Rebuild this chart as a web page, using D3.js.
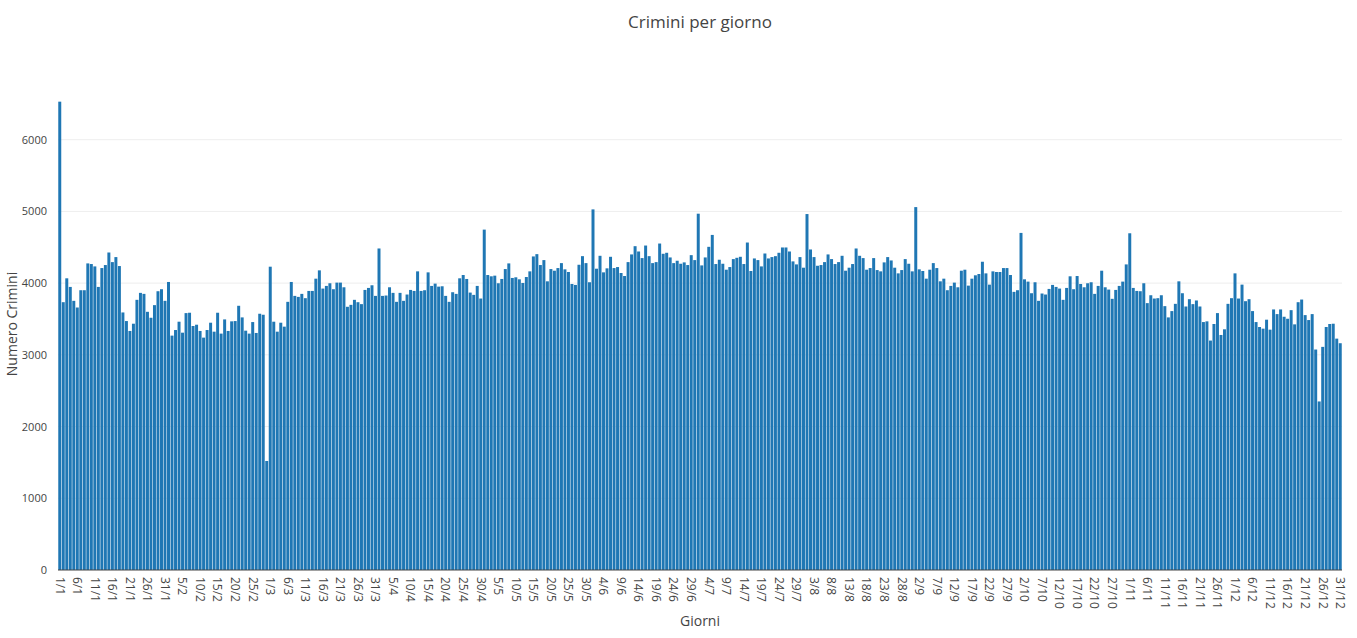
<!DOCTYPE html>
<html>
<head>
<meta charset="utf-8">
<script src="https://cdn.jsdelivr.net/npm/d3@7/dist/d3.min.js"></script>
<style>
  body { margin: 0; background: #fff; }
  text { font-family: "Open Sans", sans-serif; fill: #444; }
</style>
</head>
<body>
<svg id="chart" width="1357" height="638"></svg>
<script>
// days per month (leap year) -> category labels "d/m"
var monthDays = [31, 29, 31, 30, 31, 30, 31, 31, 30, 31, 30, 31];

// crimes per day
var crimini = [
  6530, 3734, 4067, 3947, 3753, 3660, 3901, 3901, 4275, 4266,
  4233, 3947, 4210, 4252, 4427, 4293, 4363, 4238, 3591, 3471,
  3333, 3434, 3767, 3864, 3850, 3600, 3517, 3693, 3887, 3915,
  3753, 4016, 3268, 3346, 3462, 3309, 3582, 3587, 3402, 3420,
  3333, 3240, 3346, 3448, 3323, 3587, 3296, 3494, 3333, 3467,
  3471, 3684, 3522, 3337, 3296, 3457, 3305, 3573, 3559, 1520,
  4229, 3462, 3323, 3448, 3393, 3739, 4016, 3822, 3808, 3850,
  3790, 3891, 3891, 4062, 4178, 3924, 3961, 3998, 3915, 4007,
  4007, 3942, 3670, 3697, 3767, 3734, 3707, 3905, 3933, 3970,
  3822, 4483, 3822, 3827, 3942, 3864, 3739, 3864, 3753, 3841,
  3905, 3891, 4164, 3891, 3901, 4150, 3961, 3993, 3951, 3956,
  3822, 3739, 3873, 3850, 4067, 4113, 4058, 3868, 3836, 3961,
  3785, 4746, 4113, 4095, 4104, 3998, 4058, 4196, 4275, 4072,
  4081, 4053, 4002, 4085, 4164, 4372, 4404, 4252, 4321, 4025,
  4196, 4173, 4210, 4279, 4192, 4155, 3988, 3975, 4256, 4376,
  4279, 4012, 5028, 4201, 4381, 4150, 4206, 4367, 4210, 4224,
  4141, 4099, 4293, 4400, 4515, 4441, 4349, 4524, 4376, 4279,
  4293, 4552, 4409, 4423, 4358, 4279, 4312, 4270, 4289, 4252,
  4390, 4321, 4968, 4247, 4358, 4506, 4672, 4266, 4326, 4270,
  4187, 4224, 4335, 4353, 4367, 4266, 4566, 4169, 4344, 4321,
  4233, 4413, 4344, 4363, 4376, 4423, 4497, 4497, 4441, 4303,
  4261, 4363, 4215, 4963, 4469, 4363, 4242, 4252, 4293, 4400,
  4335, 4266, 4293, 4381, 4173, 4215, 4266, 4483, 4381, 4349,
  4187, 4210, 4349, 4182, 4164, 4289, 4363, 4316, 4215, 4136,
  4182, 4335, 4270, 4164, 5060, 4192, 4169, 4062, 4187, 4279,
  4210, 4025, 4062, 3901, 3961, 4007, 3942, 4173, 4187, 3965,
  4062, 4109, 4127, 4298, 4136, 3979, 4164, 4155, 4155, 4210,
  4210, 4113, 3878, 3901, 4700, 4053, 4021, 3859, 4012, 3753,
  3855, 3841, 3919, 3975, 3947, 3924, 3767, 3933, 4095, 3915,
  4099, 3988, 3942, 3998, 4012, 3850, 3961, 4173, 3942, 3910,
  3781, 3905, 3961, 4021, 4261, 4695, 3933, 3891, 3887, 3998,
  3721, 3831, 3785, 3790, 3831, 3679, 3522, 3610, 3711, 4025,
  3859, 3674, 3776, 3707, 3758, 3674, 3457, 3467, 3199, 3430,
  3582, 3277, 3356, 3711, 3790, 4136, 3785, 3979, 3748, 3776,
  3610, 3457, 3388, 3365, 3490, 3351, 3633, 3568, 3633, 3531,
  3503, 3623, 3425, 3734, 3771, 3554, 3485, 3568, 3074, 2350,
  3111, 3388, 3430, 3434, 3226, 3162
];

var yTicks = [0, 1000, 2000, 3000, 4000, 5000, 6000];
var titolo = "Crimini per giorno";
var xTitolo = "Giorni";
var yTitolo = "Numero Crimini";

var giorni = [];
monthDays.forEach(function (n, m) {
  for (var d = 1; d <= n; d++) giorni.push(d + "/" + (m + 1));
});

var data = giorni.map(function (g, i) { return { giorno: g, valore: crimini[i] }; });

var svg = d3.select("#chart"),
  width = +svg.attr("width"),
  height = +svg.attr("height"),
  margin = { top: 78, right: 15, bottom: 68, left: 58 };

var x = d3.scaleBand()
  .domain(giorni)
  .range([margin.left, width - margin.right])
  .paddingInner(0.15)
  .paddingOuter(0.075);

var y = d3.scaleLinear()
  .domain([0, 6860])
  .range([height - margin.bottom, margin.top]);

// grid
svg.append("g")
  .selectAll("line")
  .data(yTicks.filter(function (t) { return t > 0; }))
  .enter().append("line")
  .attr("x1", margin.left)
  .attr("x2", width - margin.right)
  .attr("y1", function (d) { return y(d); })
  .attr("y2", function (d) { return y(d); })
  .attr("stroke", "#eee")
  .attr("stroke-width", 1);

// bars
svg.append("g")
  .attr("fill", "#1f77b4")
  .selectAll("rect")
  .data(data)
  .enter().append("rect")
  .attr("x", function (d) { return x(d.giorno); })
  .attr("width", x.bandwidth())
  .attr("y", function (d) { return y(d.valore); })
  .attr("height", function (d) { return y(0) - y(d.valore); });

// zero line
svg.append("line")
  .attr("x1", margin.left)
  .attr("x2", width - margin.right)
  .attr("y1", y(0))
  .attr("y2", y(0))
  .attr("stroke", "#444")
  .attr("stroke-width", 1);

// y axis
var yAxis = d3.axisLeft(y).tickValues(yTicks).tickSize(0).tickPadding(11).tickFormat(d3.format("d"));
var gy = svg.append("g")
  .attr("transform", "translate(" + margin.left + ",0)")
  .call(yAxis);
gy.select(".domain").remove();
gy.selectAll("text").style("font-size", "11px").attr("fill", "#444");

// x axis, every 5th day
var xAxis = d3.axisBottom(x)
  .tickValues(giorni.filter(function (d, i) { return i % 5 === 0; }))
  .tickSize(0);
var gx = svg.append("g")
  .attr("transform", "translate(0," + (height - margin.bottom) + ")")
  .call(xAxis);
gx.select(".domain").remove();
gx.selectAll("text")
  .style("font-size", "12px")
  .attr("fill", "#444")
  .attr("y", 0)
  .attr("dy", "0.35em")
  .attr("transform", "translate(0,7) rotate(90)")
  .attr("text-anchor", "start");

// titles
svg.append("text")
  .attr("x", (margin.left + width - margin.right) / 2)
  .attr("y", 28)
  .attr("text-anchor", "middle")
  .style("font-size", "17px")
  .text(titolo);

svg.append("text")
  .attr("x", (margin.left + width - margin.right) / 2)
  .attr("y", 626)
  .attr("text-anchor", "middle")
  .style("font-size", "14px")
  .text(xTitolo);

svg.append("text")
  .attr("transform", "translate(17," + ((margin.top + height - margin.bottom) / 2) + ") rotate(-90)")
  .attr("text-anchor", "middle")
  .style("font-size", "14px")
  .text(yTitolo);
</script>
</body>
</html>
